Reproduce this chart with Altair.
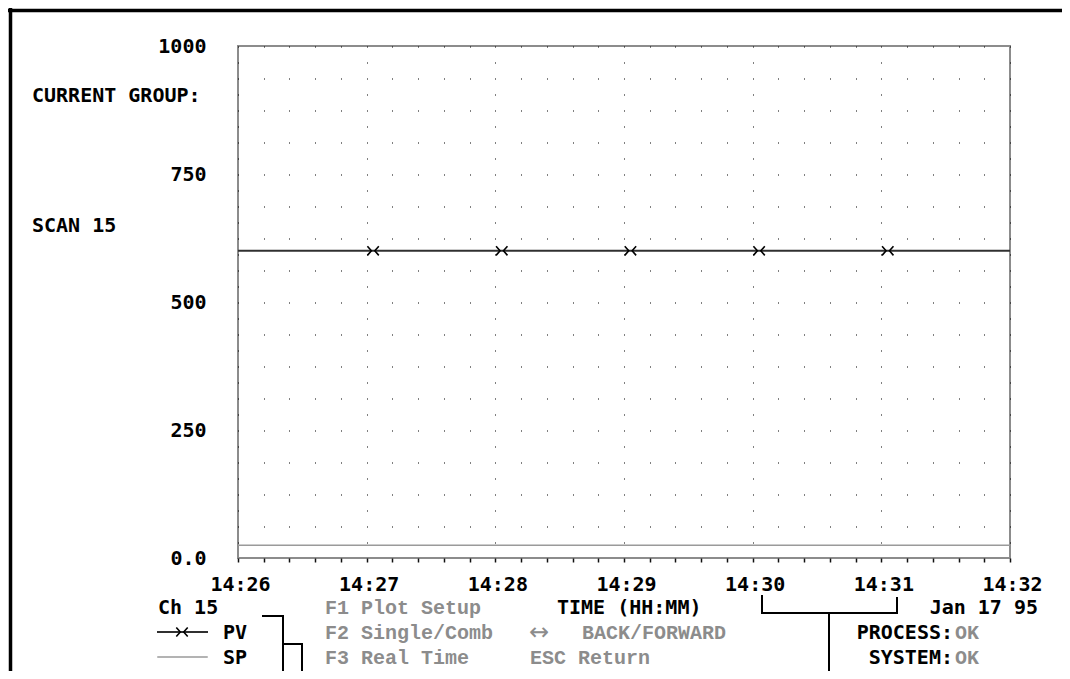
import json
import altair as alt
import pandas as pd

# ---------------- data ----------------
pv_times = ["14:26:00", "14:27:03", "14:28:03", "14:29:03", "14:30:03", "14:31:03", "14:32:00"]
pv_values = [600, 600, 600, 600, 600, 600, 600]
pv_marked = [0, 1, 1, 1, 1, 1, 0]

sp_times = ["14:26:00", "14:32:00"]
sp_values = [25, 25]

x_tick_labels = ["14:26", "14:27", "14:28", "14:29", "14:30", "14:31", "14:32"]
x_minor_per_minute = 5
y_tick_values = [0, 250, 500, 750, 1000]

START = 14 * 60 + 26


def to_minutes(t):
    h, m, s = (int(p) for p in t.split(":"))
    return h * 60 + m + s / 60.0 - START


pv_df = pd.DataFrame({"minute": [to_minutes(t) for t in pv_times],
                      "value": pv_values, "marked": pv_marked})
sp_df = pd.DataFrame({"minute": [to_minutes(t) for t in sp_times], "value": sp_values})

# ---------------- layout (pixels relative to plot origin) ----------------
PL, PT = 238, 46          # page position of plot origin
W, H = 772, 512
SVG_W, SVG_H = 1054, 663
FONT_B = "DejaVu Sans Mono"
FONT_G = "Liberation Mono"
GREY = "#8c8c8c"
MARKER = "M-1,-0.8 L-0.3,0 L-1,0.8 M1,-0.8 L0.3,0 L1,0.8"
ROW1, ROW2, ROW3 = 607, 632, 657

n_ticks = len(x_tick_labels) - 1
x_tick_values = [round(i / x_minor_per_minute, 4) for i in range(n_ticks * x_minor_per_minute + 1)]
major_test = "abs(datum.value - round(datum.value)) < 0.001"

x_enc = alt.X(
    "minute:Q",
    scale=alt.Scale(domain=[0, n_ticks], nice=False, zero=False),
    axis=alt.Axis(
        title=None, values=x_tick_values, domain=False,
        ticks=True, tickSize=4, tickWidth=1.5, tickColor="#111",
        labelExpr=f"{major_test} ? {json.dumps(x_tick_labels)}[round(datum.value)] : ''",
        labelOverlap=False, labelFlush=False, labelOffset=2,
        labelFont=FONT_B, labelFontSize=20, labelFontWeight="bold", labelColor="#000",
        labelBaseline="middle", labelPadding=22,
        grid=True, gridColor="#000", gridWidth=1, gridOpacity=1,
        gridDash={"condition": {"test": major_test, "value": [1, 15]}, "value": [1, 31]},
    ),
)
y_enc = alt.Y(
    "value:Q",
    scale=alt.Scale(domain=[0, 1000], nice=False),
    axis=alt.Axis(
        title=None, values=y_tick_values, domain=False, ticks=False, tickSize=0,
        grid=False, format="d",
        labelExpr="datum.value == 0 ? '0.0' : datum.label",
        labelFont=FONT_B, labelFontSize=20, labelFontWeight="bold", labelColor="#000",
        labelPadding=32,
    ),
)

pv_line = alt.Chart(pv_df).mark_line(color="#303030", strokeWidth=2).encode(x=x_enc, y=y_enc)
pv_marks = alt.Chart(pv_df).transform_filter("datum.marked == 1").mark_point(
    shape=MARKER, size=130, filled=False, stroke="#000", strokeWidth=1.6, opacity=1
).encode(x=x_enc, y=y_enc)
sp_line = alt.Chart(sp_df).mark_line(color="#9a9a9a", strokeWidth=1.5).encode(x=x_enc, y=y_enc)

one = pd.DataFrame({"a": [0]})


def rule(x1, y1, x2, y2, color="#000", width=2.0):
    return alt.Chart(one).mark_rule(color=color, strokeWidth=width, strokeCap="square").encode(
        x=alt.value(x1 - PL), x2=alt.value(x2 - PL), y=alt.value(y1 - PT), y2=alt.value(y2 - PT))


def text(s, x, y, align="left", color="#000", font=FONT_B, weight="bold", size=20):
    return alt.Chart(pd.DataFrame({"t": [s]})).mark_text(
        align=align, baseline="middle", font=font, fontSize=size, fontWeight=weight, color=color
    ).encode(text="t:N", x=alt.value(x - PL), y=alt.value(y + 1 - PT))


deco = [
    # outer frame
    rule(10.5, 9, 10.5, 690, width=3.5),
    rule(9, 10.5, 1080, 10.5, width=3.5),
    # legend bracket
    rule(263, 616, 283, 616), rule(283, 616, 283, 672), rule(263, 672, 283, 672),
    rule(283, 644, 302, 644), rule(302, 644, 302, 690),
    # time bracket
    rule(762, 596, 762, 613), rule(762, 613, 897, 613), rule(897, 598, 897, 613),
    rule(829, 613, 829, 690),
    # legend samples
    rule(158, ROW2, 207, ROW2, color="#303030", width=2),
    rule(158, ROW3, 207, ROW3, color="#9a9a9a", width=1.5),
]
legend_marker = alt.Chart(one).mark_point(
    shape=MARKER, size=130, filled=False, stroke="#000", strokeWidth=1.6, opacity=1
).encode(x=alt.value(182 - PL), y=alt.value(ROW2 - PT))

texts = [
    text("CURRENT GROUP:", 32, 95),
    text("SCAN 15", 32, 225),
    text("Ch 15", 158, ROW1),
    text("PV", 223, ROW2),
    text("SP", 223, ROW3),
    text("TIME (HH:MM)", 557, ROW1),
    text("Jan 17 95", 1038, ROW1, align="right"),
    text("PROCESS:", 953, ROW2, align="right"),
    text("SYSTEM:", 953, ROW3, align="right"),
    text("OK", 955, ROW2, color=GREY, font=FONT_G),
    text("OK", 955, ROW3, color=GREY, font=FONT_G),
    text("F1 Plot Setup", 325, ROW1, color=GREY, font=FONT_G),
    text("F2 Single/Comb", 325, ROW2, color=GREY, font=FONT_G),
    text("F3 Real Time", 325, ROW3, color=GREY, font=FONT_G),
    text("\u2194", 529, ROW2, color=GREY, font="DejaVu Sans", weight="normal", size=24),
    text("BACK/FORWARD", 582, ROW2, color=GREY, font=FONT_G),
    text("ESC Return", 530, ROW3, color=GREY, font=FONT_G),
]

chart = alt.layer(sp_line, pv_line, pv_marks, *deco, legend_marker, *texts).properties(
    width=W, height=H,
    autosize=alt.AutoSizeParams(type="none"),
    padding={"left": PL - 8, "top": PT - 8, "right": SVG_W - (PL - 8) - W,
             "bottom": SVG_H - (PT - 8) - H},
    background="#ffffff",
).configure_view(stroke="#8c8c8c", strokeWidth=2)

chart.save("out.html", embed_options={"renderer": "svg", "actions": False})
